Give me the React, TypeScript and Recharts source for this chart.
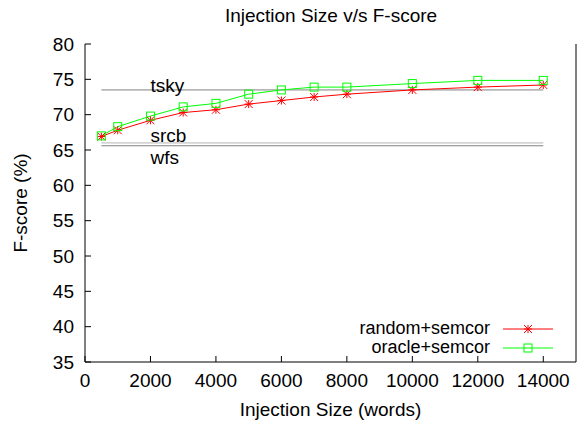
import {
  LineChart, Line, XAxis, YAxis, ReferenceLine, ReferenceDot, Legend,
} from "recharts";

const FONT = "'Liberation Sans', Arial, sans-serif";
const FS = 19;
const RED = "#ff0000";
const GREEN = "#00ff00";

const sizes = [500, 1000, 2000, 3000, 4000, 5000, 6000, 7000, 8000, 10000, 12000, 14000];
const randomSemcor = [66.9, 67.8, 69.2, 70.3, 70.7, 71.5, 72.0, 72.5, 72.9, 73.5, 73.9, 74.2];
const oracleSemcor = [67.0, 68.3, 69.8, 71.1, 71.6, 72.9, 73.5, 73.9, 73.9, 74.4, 74.85, 74.85];

const baselines = [
  { name: "tsky", value: 73.5, color: "#808080", dy: -4 },
  { name: "srcb", value: 66.0, color: "#b4b4b4", dy: -7 },
  { name: "wfs", value: 65.6, color: "#808080", dy: 12 },
];
const baselineFrom = 500;
const baselineTo = 14000;
const labelAt = 2000;

const xTicks = [0, 2000, 4000, 6000, 8000, 10000, 12000, 14000];
const yTicks = [35, 40, 45, 50, 55, 60, 65, 70, 75, 80];

const data = sizes.map((size, i) => ({
  size,
  random: randomSemcor[i],
  oracle: oracleSemcor[i],
}));

function Star({ cx, cy, color }: { cx: number; cy: number; color: string }) {
  const r = 4;
  return (
    <g stroke={color} strokeWidth={1}>
      <line x1={cx - r} y1={cy} x2={cx + r} y2={cy} />
      <line x1={cx} y1={cy - r} x2={cx} y2={cy + r} />
      <line x1={cx - r} y1={cy - r} x2={cx + r} y2={cy + r} />
      <line x1={cx - r} y1={cy + r} x2={cx + r} y2={cy - r} />
    </g>
  );
}

function Square({ cx, cy, color }: { cx: number; cy: number; color: string }) {
  const r = 4;
  return <rect x={cx - r} y={cy - r} width={2 * r} height={2 * r} fill="none" stroke={color} strokeWidth={1} />;
}

function LegendBox() {
  const rows = [
    { label: "random+semcor", color: RED, kind: "star" },
    { label: "oracle+semcor", color: GREEN, kind: "square" },
  ];
  return (
    <div style={{ fontFamily: FONT, fontSize: 18, color: "#000" }}>
      {rows.map((r) => (
        <div key={r.label} style={{ display: "flex", alignItems: "center", justifyContent: "flex-end", height: 19 }}>
          <span style={{ marginRight: 13 }}>{r.label}</span>
          <svg width={50} height={12}>
            <line x1={0} y1={6} x2={50} y2={6} stroke={r.color} strokeWidth={1} />
            {r.kind === "star" ? <Star cx={25} cy={6} color={r.color} /> : <Square cx={25} cy={6} color={r.color} />}
          </svg>
        </div>
      ))}
    </div>
  );
}

export default function App() {
  return (
    <div style={{ position: "absolute", left: 0, top: 0, width: 577, height: 423, background: "#fff" }}>
      <div style={{ position: "absolute", left: 86, width: 490, top: 5, textAlign: "center", fontFamily: FONT, fontSize: FS }}>
        Injection Size v/s F-score
      </div>
      <LineChart width={577} height={423} data={data} margin={{ top: 44, right: 0, bottom: 0, left: 25 }}>
        <XAxis
          xAxisId="b" dataKey="size" type="number" domain={[0, 15000]} ticks={xTicks}
          height={61} tickSize={-6} tickMargin={18}
          tick={{ fontSize: FS, fill: "#000", fontFamily: FONT }}
          axisLine={{ stroke: "#000" }} tickLine={{ stroke: "#000" }}
          label={{ value: "Injection Size (words)", position: "insideBottom", offset: 7, fontSize: FS, fill: "#000", fontFamily: FONT }}
        />
        <XAxis
          xAxisId="t" orientation="top" dataKey="size" type="number" domain={[0, 15000]} ticks={xTicks}
          height={0} tickSize={-6} tickFormatter={() => ""}
          axisLine={{ stroke: "#000" }} tickLine={{ stroke: "#000" }}
        />
        <YAxis
          yAxisId="l" type="number" domain={[35, 80]} ticks={yTicks}
          width={60} tickSize={-6} tickMargin={17}
          tick={{ fontSize: FS, fill: "#000", fontFamily: FONT }}
          axisLine={{ stroke: "#000" }} tickLine={{ stroke: "#000" }}
          label={{
            content: ({ viewBox }: any) => (
              <text
                x={20} y={viewBox.y + viewBox.height / 2} transform={`rotate(-90 20 ${viewBox.y + viewBox.height / 2})`}
                textAnchor="middle" dominantBaseline="central" fontSize={FS} fontFamily={FONT} fill="#000"
              >
                F-score (%)
              </text>
            ),
          }}
        />
        <YAxis
          yAxisId="r" orientation="right" type="number" domain={[35, 80]} ticks={yTicks}
          width={1} tickSize={-6} tickFormatter={() => ""}
          axisLine={{ stroke: "#000" }} tickLine={{ stroke: "#000" }}
        />
        {baselines.map((b) => (
          <ReferenceLine
            key={b.name} xAxisId="b" yAxisId="l"
            segment={[{ x: baselineFrom, y: b.value }, { x: baselineTo, y: b.value }]}
            stroke={b.color} strokeWidth={1}
          />
        ))}
        {baselines.map((b) => (
          <ReferenceDot
            key={b.name + "-label"} xAxisId="b" yAxisId="l" x={labelAt} y={b.value} r={0}
            fill="none" stroke="none"
            label={{
              content: ({ viewBox }: any) => (
                <text
                  x={viewBox.x} y={viewBox.y + b.dy} dominantBaseline="central"
                  fontSize={FS} fontFamily={FONT} fill="#000"
                >
                  {b.name}
                </text>
              ),
            }}
          />
        ))}
        <Line
          xAxisId="b" yAxisId="l" dataKey="random" stroke={RED} strokeWidth={1} isAnimationActive={false}
          dot={(p: any) => <Star key={p.index} cx={p.cx} cy={p.cy} color={RED} />}
        />
        <Line
          xAxisId="b" yAxisId="l" dataKey="oracle" stroke={GREEN} strokeWidth={1} isAnimationActive={false}
          dot={(p: any) => <Square key={p.index} cx={p.cx} cy={p.cy} color={GREEN} />}
        />
        <Legend
          layout="horizontal" verticalAlign="middle" align="center"
          wrapperStyle={{ left: 250, top: 319, width: 303 }}
          content={() => <LegendBox />}
        />
      </LineChart>
    </div>
  );
}
